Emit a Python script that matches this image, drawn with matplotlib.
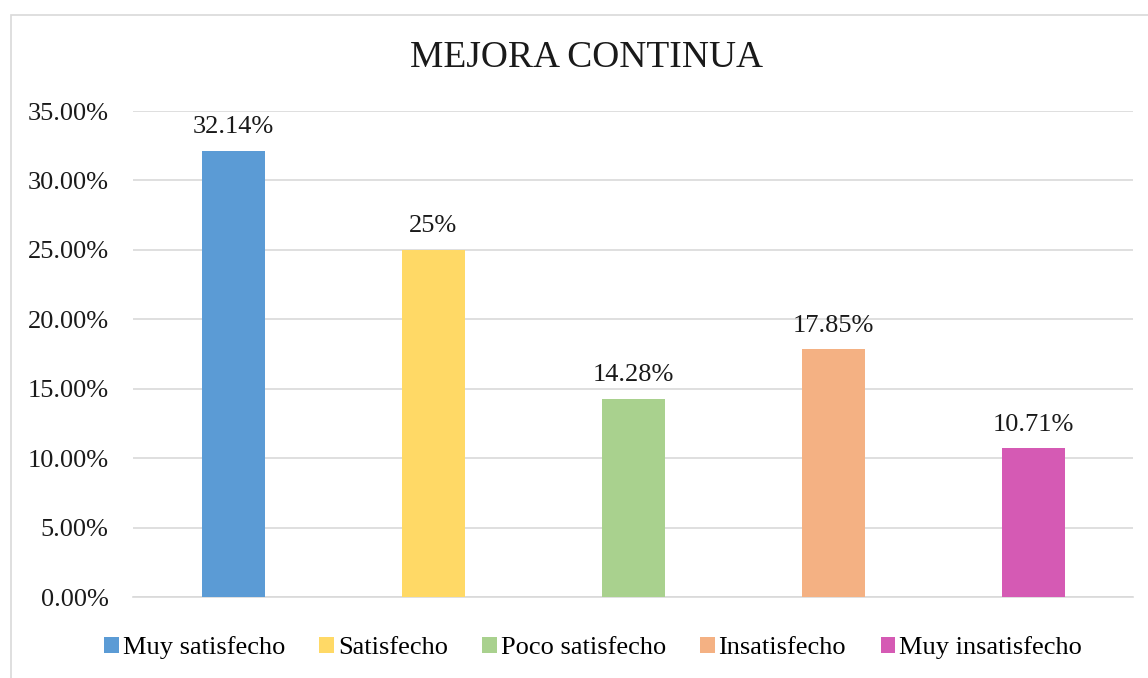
import matplotlib.pyplot as plt
from matplotlib.patches import Rectangle
from matplotlib.ticker import FuncFormatter

categorias = ['Muy satisfecho', 'Satisfecho', 'Poco satisfecho', 'Insatisfecho', 'Muy insatisfecho']
valores = [0.3214, 0.25, 0.1428, 0.1785, 0.1071]
etiquetas = ['32.14%', '25%', '14.28%', '17.85%', '10.71%']
colores = ['#5B9BD5', '#FFD966', '#A9D18E', '#F4B183', '#D55AB4']

plt.rcParams['font.family'] = ['Liberation Serif', 'DejaVu Serif']

fig = plt.figure(figsize=(11.48, 6.78), dpi=100)
# marco del gráfico
fig.patches.append(Rectangle((11 / 1148, -0.1), 1.2, 1 - 15 / 678 + 0.1,
                             transform=fig.transFigure, fill=False,
                             edgecolor='#D9D9D9', linewidth=1.2))

ax = fig.add_axes([133 / 1148, 1 - 597 / 678, 1000 / 1148, 486 / 678])
x = range(len(categorias))
barras = ax.bar(x, valores, width=0.315, color=colores, label=categorias, zorder=3)

for b, txt in zip(barras, etiquetas):
    ax.annotate(txt, (b.get_x() + b.get_width() / 2, b.get_height()),
                xytext=(0, 9), textcoords='offset points',
                ha='center', va='bottom', fontsize=19, color='#1a1a1a')

ax.set_xlim(-0.5, len(categorias) - 0.5)
ax.set_ylim(0, 0.35)
ax.set_yticks([i * 0.05 for i in range(8)])
ax.yaxis.set_major_formatter(FuncFormatter(lambda v, p: f'{v * 100:.2f}%'))
ax.set_xticks([])
ax.tick_params(axis='y', length=0, labelsize=19, pad=17.5, labelcolor='#1a1a1a')
ax.grid(axis='y', color='#D9D9D9', linewidth=1.2, zorder=0)
for s in ['top', 'right', 'left']:
    ax.spines[s].set_visible(False)
ax.spines['bottom'].set_color('#D9D9D9')
ax.spines['bottom'].set_linewidth(1.2)

fig.text(587 / 1148, 1 - 58 / 678, 'MEJORA CONTINUA', ha='center', va='center',
         fontsize=27, color='#1a1a1a')

leg = fig.legend(loc='center', bbox_to_anchor=(593 / 1148, 1 - 648 / 678), ncol=5,
                 frameon=False, fontsize=19, handlelength=0.55, handleheight=0.55,
                 handletextpad=0.15, columnspacing=1.3)

fig.savefig('out.png', dpi=100)
